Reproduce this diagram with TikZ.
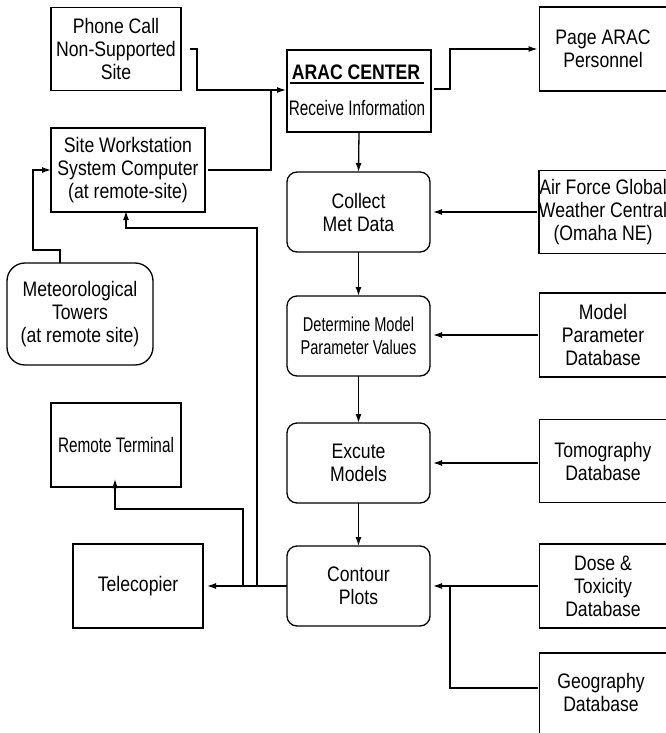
\documentclass[tikz,border=0pt]{standalone}
\usepackage{fontspec}
\setmainfont{Liberation Sans}[FakeStretch=0.84]
\newfontfamily\condfont{Liberation Sans}[FakeStretch=0.73]
\usetikzlibrary{arrows.meta}
\begin{document}
\begin{tikzpicture}[x=1pt,y=-1pt,
  every node/.style={inner sep=0pt,outer sep=0pt,align=center,font=\fontsize{21}{23}\selectfont},
  box/.style={draw,line width=1.3pt},
  rbox/.style={draw,line width=1.3pt,rounded corners=10pt},
  conn/.style={line width=1.3pt},
  arr/.style={line width=1.3pt,-{Latex[length=9pt,width=6pt]}}]
\useasboundingbox (0,0) rectangle (666,733);
% left column
\node[box,minimum width=130,minimum height=83] (phone) at (116,49) {Phone Call\\Non-Supported\\Site};
\node[box,minimum width=154,minimum height=84] (site) at (128,170) {Site Workstation\\System Computer\\(at remote-site)};
\node[rbox,rounded corners=18pt,minimum width=146,minimum height=102] (towers) at (80,314) {Meteorological\\Towers\\(at remote site)};
\node[box,minimum width=130,minimum height=84] (remote) at (116,445) {\condfont Remote Terminal};
\node[box,minimum width=130,minimum height=84] (tele) at (138,586) {Telecopier};
% center column
\node[box,minimum width=144,minimum height=82] (arac) at (359,91) {};
\node (aractitle) at (356,72) {\bfseries ARAC CENTER};
\draw[line width=1.3pt] (290,83) -- (424,83);
\node (aracrecv) at (357,108) {\condfont Receive Information};
\node[rbox,minimum width=143,minimum height=80] (collect) at (358.5,212) {Collect\\Met Data};
\node[rbox,minimum width=143,minimum height=80] (determine) at (358.5,336) {\condfont\fontsize{20}{22}\selectfont Determine Model\\\condfont\fontsize{20}{22}\selectfont Parameter Values};
\node[rbox,minimum width=143,minimum height=80] (excute) at (358.5,463) {Excute\\Models};
\node[rbox,minimum width=143,minimum height=80] (contour) at (358.5,586) {Contour\\Plots};
% right column
\node[box,minimum width=127,minimum height=84] (page) at (603,49) {Page ARAC\\Personnel};
\node[box,minimum width=127,minimum height=83] (air) at (603,212) {Air Force Global\\Weather Central\\(Omaha NE)};
\node[box,minimum width=127,minimum height=84] (model) at (603,335) {Model\\Parameter\\Database};
\node[box,minimum width=127,minimum height=83] (tomo) at (603,461) {Tomography\\Database};
\node[box,minimum width=127,minimum height=84] (dose) at (603,586) {Dose \&\\Toxicity\\Database};
\node[box,minimum width=127,minimum height=90,anchor=north] (geo) at (603,653) {};
\node (geotext) at (601,692) {Geography\\Database};
% connectors
\coordinate (j1) at (271,90);
\draw[arr] ([xshift=9pt]phone.east) -| (197,90) -- ([xshift=-1pt]arac.west |- j1);
\draw[conn] ([xshift=3pt]site.east) -| (j1);
\draw[arr] ([xshift=3pt]arac.east |- 0,89) -- (450,89) |- ([xshift=-2pt]page.west);
\draw[arr] (arac.south) -- (collect.north);
\draw[arr] (collect.south) -- (determine.north);
\draw[arr] (determine.south) -- (excute.north);
\draw[arr] (excute.south) -- (contour.north);
\draw[arr] ([xshift=-2pt]air.west) -- ([xshift=3pt]collect.east);
\draw[arr] ([xshift=-2pt]model.west) -- ([xshift=3pt]determine.east |- model.west);
\draw[arr] ([xshift=-2pt]tomo.west |- excute.east) -- ([xshift=3pt]excute.east);
\draw[arr] ([xshift=-2pt]dose.west) -- ([xshift=3pt]contour.east);
\coordinate (g1) at (450,688);
\draw[conn] ([xshift=-2pt]geo.west |- g1) -- (g1) -- (g1 |- contour.east);
\draw[arr] (contour.west) -- ([xshift=4pt]tele.east);
\coordinate (b1) at (257,586);
\coordinate (b2) at (243,586);
\draw[arr] (b1) -- (257,228) -| ([yshift=1pt]126,212);
\draw[arr] (b2) -- (243,509) -| ([yshift=8pt]115,487);
\draw[arr] (towers.north -| 60,0) -- (60,250) -| (33,170) -- (site.west);
\end{tikzpicture}
\end{document}
